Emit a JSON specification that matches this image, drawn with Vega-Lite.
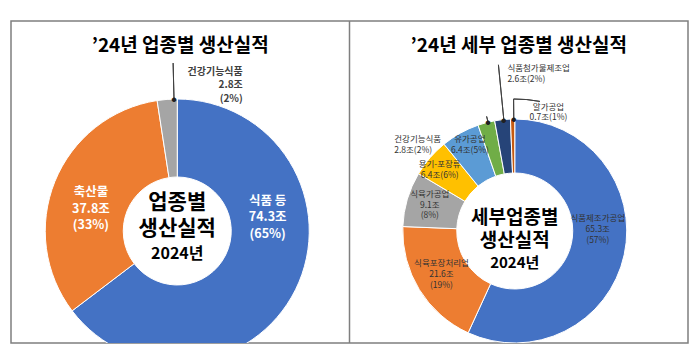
{
  "$schema": "https://vega.github.io/schema/vega-lite/v6.json",
  "width": 700,
  "height": 358,
  "autosize": {"type": "fit", "contains": "padding"},
  "padding": {"left": 11, "top": 20, "right": 12, "bottom": 14},
  "config": {
    "view": {"stroke": "#7f7f7f", "strokeWidth": 1.5},
    "font": "Noto Sans CJK KR",
    "text": {"font": "Noto Sans CJK KR"}
  },
  "datasets": {
    "panels": [
      {"panel": "L", "title": "’24년 업종별 생산실적"},
      {"panel": "R", "title": "’24년 세부 업종별 생산실적"}
    ],
    "left": [
      {"panel": "L", "rank": 1, "category": "식품 등", "value": 74.3, "label": "식품 등\n74.3조\n(65%)"},
      {"panel": "L", "rank": 2, "category": "축산물", "value": 37.8, "label": "축산물\n37.8조\n(33%)"},
      {"panel": "L", "rank": 3, "category": "건강기능식품", "value": 2.8, "label": "건강기능식품\n2.8조\n(2%)"}
    ],
    "right": [
      {"panel": "R", "rank": 1, "category": "식품제조가공업", "value": 65.3, "label": "식품제조가공업\n65.3조\n(57%)"},
      {"panel": "R", "rank": 2, "category": "식육포장처리업", "value": 21.6, "label": "식육포장처리업\n21.6조\n(19%)"},
      {"panel": "R", "rank": 3, "category": "식육가공업", "value": 9.1, "label": "식육가공업\n9.1조\n(8%)"},
      {"panel": "R", "rank": 4, "category": "용기-포장류", "value": 6.4, "label": "용기-포장류\n6.4조(6%)"},
      {"panel": "R", "rank": 5, "category": "유가공업", "value": 6.4, "label": "유가공업\n6.4조(5%)"},
      {"panel": "R", "rank": 6, "category": "건강기능식품", "value": 2.8, "label": "건강기능식품\n2.8조(2%)"},
      {"panel": "R", "rank": 7, "category": "식품첨가물제조업", "value": 2.6, "label": "식품첨가물제조업\n2.6조(2%)"},
      {"panel": "R", "rank": 8, "category": "알가공업", "value": 0.7, "label": "알가공업\n0.7조(1%)"}
    ]
  },
  "encoding": {
    "x": {"field": "panel", "type": "nominal", "axis": null, "scale": {"type": "band", "domain": ["L", "R"], "paddingInner": 0, "paddingOuter": 0}}
  },
  "resolve": {"scale": {"color": "independent"}},
  "layer": [
    {
      "data": {"name": "panels"},
      "transform": [{"filter": "datum.panel === 'R'"}],
      "mark": {"type": "rule", "color": "#7f7f7f", "strokeWidth": 1.5},
      "encoding": {"x": {"field": "panel", "type": "nominal", "bandPosition": 0}}
    },
    {
      "data": {"name": "panels"},
      "mark": {"type": "text", "y": 25, "fontSize": 19, "fontWeight": "bold", "color": "#000000", "align": "center", "baseline": "middle"},
      "encoding": {"text": {"field": "title", "type": "nominal"}}
    },
    {
      "data": {"name": "left"},
      "layer": [
        {
          "mark": {"type": "arc", "outerRadius": 132, "innerRadius": 54, "stroke": "white", "strokeWidth": 1, "xOffset": -3, "y": 210, "clip": true},
          "encoding": {
            "theta": {"field": "value", "type": "quantitative", "stack": true, "scale": {"domain": [0, 114.9], "nice": false}},
            "order": {"field": "rank", "type": "quantitative"},
            "color": {"field": "category", "type": "nominal", "scale": {"domain": ["식품 등", "축산물", "건강기능식품"], "range": ["#4472C4", "#ED7D31", "#A5A5A5"]}, "legend": null}
          }
        },
        {
          "mark": {"type": "text", "radius": 92, "dx": 8, "dy": -70.8, "xOffset": -3, "y": 210, "lineBreak": "\n", "fontSize": 12.5, "lineHeight": 16.3, "fontWeight": "bold", "color": "white", "align": "center", "baseline": "middle"},
          "encoding": {
            "theta": {"field": "value", "type": "quantitative", "stack": true, "scale": {"domain": [0, 114.9], "nice": false}},
            "order": {"field": "rank", "type": "quantitative"},
            "detail": {"field": "category", "type": "nominal"},
            "text": {"condition": {"test": "datum.rank === 1", "field": "label", "type": "nominal"}, "value": ""}
          }
        },
        {
          "mark": {"type": "text", "radius": 92, "dx": -1, "dy": -4.3, "xOffset": -3, "y": 210, "lineBreak": "\n", "fontSize": 12.5, "lineHeight": 16.3, "fontWeight": "bold", "color": "white", "align": "center", "baseline": "middle"},
          "encoding": {
            "theta": {"field": "value", "type": "quantitative", "stack": true, "scale": {"domain": [0, 114.9], "nice": false}},
            "order": {"field": "rank", "type": "quantitative"},
            "detail": {"field": "category", "type": "nominal"},
            "text": {"condition": {"test": "datum.rank === 2", "field": "label", "type": "nominal"}, "value": ""}
          }
        },
        {
          "mark": {"type": "text", "radius": 150, "dx": 77, "dy": -9.5, "xOffset": -3, "y": 210, "lineBreak": "\n", "fontSize": 10, "lineHeight": 13.5, "fontWeight": "bold", "color": "#404040", "align": "right", "baseline": "middle"},
          "encoding": {
            "theta": {"field": "value", "type": "quantitative", "stack": true, "scale": {"domain": [0, 114.9], "nice": false}},
            "order": {"field": "rank", "type": "quantitative"},
            "detail": {"field": "category", "type": "nominal"},
            "text": {"condition": {"test": "datum.rank === 3", "field": "label", "type": "nominal"}, "value": ""}
          }
        }
      ]
    },
    {
      "data": {"values": [{"panel": "L"}]},
      "mark": {"type": "arc", "innerRadius": 132, "outerRadius": 168, "fillOpacity": 0, "stroke": "#404040", "strokeWidth": 1, "xOffset": -3, "y": 210},
      "encoding": {
        "theta": {"datum": 114.45, "type": "quantitative", "scale": {"domain": [0, 114.9], "nice": false}},
        "theta2": {"datum": 114.45}
      }
    },
    {
      "data": {"values": [{"panel": "L", "dot": "●"}]},
      "mark": {"type": "text", "radius": 132, "xOffset": -3, "y": 210, "fontSize": 5, "color": "#202020", "align": "center", "baseline": "middle"},
      "encoding": {
        "theta": {"datum": 114.45, "type": "quantitative", "scale": {"domain": [0, 114.9], "nice": false}},
        "text": {"field": "dot", "type": "nominal"}
      }
    },
    {
      "data": {"values": [{"panel": "L", "t": "업종별\n생산실적"}]},
      "mark": {"type": "text", "xOffset": -3, "y": 210, "dy": -28, "lineBreak": "\n", "fontSize": 21, "lineHeight": 26, "fontWeight": "bold", "color": "#000000", "align": "center", "baseline": "middle"},
      "encoding": {"text": {"field": "t", "type": "nominal"}}
    },
    {
      "data": {"values": [{"panel": "L", "t": "2024년"}]},
      "mark": {"type": "text", "xOffset": -3, "y": 210, "dy": 23, "fontSize": 16, "fontWeight": "bold", "color": "#000000", "align": "center", "baseline": "middle"},
      "encoding": {"text": {"field": "t", "type": "nominal"}}
    },
    {
      "data": {"name": "right"},
      "layer": [
        {
          "mark": {"type": "arc", "outerRadius": 112, "innerRadius": 58, "stroke": "white", "strokeWidth": 1, "xOffset": -4, "y": 210, "clip": true},
          "encoding": {
            "theta": {"field": "value", "type": "quantitative", "stack": true, "scale": {"domain": [0, 114.9], "nice": false}},
            "order": {"field": "rank", "type": "quantitative"},
            "color": {"field": "category", "type": "nominal", "scale": {"domain": ["식품제조가공업", "식육포장처리업", "식육가공업", "용기-포장류", "유가공업", "건강기능식품", "식품첨가물제조업", "알가공업"], "range": ["#4472C4", "#ED7D31", "#A5A5A5", "#FFC000", "#5B9BD5", "#70AD47", "#264478", "#C55A11"]}, "legend": null}
          }
        },
        {
          "mark": {"type": "text", "radius": 86, "dx": -1, "dy": -31, "xOffset": -4, "y": 210, "lineBreak": "\n", "fontSize": 8.5, "lineHeight": 11, "color": "#333333", "align": "center", "baseline": "middle"},
          "encoding": {
            "theta": {"field": "value", "type": "quantitative", "stack": true, "scale": {"domain": [0, 114.9], "nice": false}},
            "order": {"field": "rank", "type": "quantitative"},
            "detail": {"field": "category", "type": "nominal"},
            "text": {"condition": {"test": "datum.rank === 1", "field": "label", "type": "nominal"}, "value": ""}
          }
        },
        {
          "mark": {"type": "text", "radius": 86, "dx": 0, "dy": -13, "xOffset": -4, "y": 210, "lineBreak": "\n", "fontSize": 8.5, "lineHeight": 11, "color": "#333333", "align": "center", "baseline": "middle"},
          "encoding": {
            "theta": {"field": "value", "type": "quantitative", "stack": true, "scale": {"domain": [0, 114.9], "nice": false}},
            "order": {"field": "rank", "type": "quantitative"},
            "detail": {"field": "category", "type": "nominal"},
            "text": {"condition": {"test": "datum.rank === 2", "field": "label", "type": "nominal"}, "value": ""}
          }
        },
        {
          "mark": {"type": "text", "radius": 86, "dx": -2.5, "dy": -12.5, "xOffset": -4, "y": 210, "lineBreak": "\n", "fontSize": 8.5, "lineHeight": 10.5, "color": "#333333", "align": "center", "baseline": "middle"},
          "encoding": {
            "theta": {"field": "value", "type": "quantitative", "stack": true, "scale": {"domain": [0, 114.9], "nice": false}},
            "order": {"field": "rank", "type": "quantitative"},
            "detail": {"field": "category", "type": "nominal"},
            "text": {"condition": {"test": "datum.rank === 3", "field": "label", "type": "nominal"}, "value": ""}
          }
        },
        {
          "mark": {"type": "text", "radius": 86, "dx": -10, "dy": -11, "xOffset": -4, "y": 210, "lineBreak": "\n", "fontSize": 8.5, "lineHeight": 11, "color": "#333333", "align": "center", "baseline": "middle"},
          "encoding": {
            "theta": {"field": "value", "type": "quantitative", "stack": true, "scale": {"domain": [0, 114.9], "nice": false}},
            "order": {"field": "rank", "type": "quantitative"},
            "detail": {"field": "category", "type": "nominal"},
            "text": {"condition": {"test": "datum.rank === 4", "field": "label", "type": "nominal"}, "value": ""}
          }
        },
        {
          "mark": {"type": "text", "radius": 86, "dx": -3, "dy": -17, "xOffset": -4, "y": 210, "lineBreak": "\n", "fontSize": 8.5, "lineHeight": 11, "color": "#333333", "align": "center", "baseline": "middle"},
          "encoding": {
            "theta": {"field": "value", "type": "quantitative", "stack": true, "scale": {"domain": [0, 114.9], "nice": false}},
            "order": {"field": "rank", "type": "quantitative"},
            "detail": {"field": "category", "type": "nominal"},
            "text": {"condition": {"test": "datum.rank === 5", "field": "label", "type": "nominal"}, "value": ""}
          }
        },
        {
          "mark": {"type": "text", "radius": 120, "dx": -90, "dy": 24, "xOffset": -4, "y": 210, "lineBreak": "\n", "fontSize": 8.5, "lineHeight": 11, "color": "#333333", "align": "left", "baseline": "middle"},
          "encoding": {
            "theta": {"field": "value", "type": "quantitative", "stack": true, "scale": {"domain": [0, 114.9], "nice": false}},
            "order": {"field": "rank", "type": "quantitative"},
            "detail": {"field": "category", "type": "nominal"},
            "text": {"condition": {"test": "datum.rank === 6", "field": "label", "type": "nominal"}, "value": ""}
          }
        },
        {
          "mark": {"type": "text", "radius": 150, "dx": 9, "dy": -13.5, "xOffset": -4, "y": 210, "lineBreak": "\n", "fontSize": 8.5, "lineHeight": 11, "color": "#333333", "align": "left", "baseline": "middle"},
          "encoding": {
            "theta": {"field": "value", "type": "quantitative", "stack": true, "scale": {"domain": [0, 114.9], "nice": false}},
            "order": {"field": "rank", "type": "quantitative"},
            "detail": {"field": "category", "type": "nominal"},
            "text": {"condition": {"test": "datum.rank === 7", "field": "label", "type": "nominal"}, "value": ""}
          }
        },
        {
          "mark": {"type": "text", "radius": 120, "dx": 36, "dy": -4.5, "xOffset": -4, "y": 210, "lineBreak": "\n", "fontSize": 8.5, "lineHeight": 10.5, "color": "#333333", "align": "center", "baseline": "middle"},
          "encoding": {
            "theta": {"field": "value", "type": "quantitative", "stack": true, "scale": {"domain": [0, 114.9], "nice": false}},
            "order": {"field": "rank", "type": "quantitative"},
            "detail": {"field": "category", "type": "nominal"},
            "text": {"condition": {"test": "datum.rank === 8", "field": "label", "type": "nominal"}, "value": ""}
          }
        }
      ]
    },
    {
      "data": {"values": [{"panel": "R"}]},
      "mark": {"type": "arc", "innerRadius": 112, "outerRadius": 167, "fillOpacity": 0, "stroke": "#404040", "strokeWidth": 1, "xOffset": -4, "y": 210},
      "encoding": {
        "theta": {"datum": 113.11, "type": "quantitative", "scale": {"domain": [0, 114.9], "nice": false}},
        "theta2": {"datum": 113.11}
      }
    },
    {
      "data": {"values": [{"panel": "R"}]},
      "mark": {"type": "arc", "innerRadius": 112, "outerRadius": 132, "fillOpacity": 0, "stroke": "#404040", "strokeWidth": 1, "xOffset": -4, "y": 210},
      "encoding": {
        "theta": {"datum": 114.74, "type": "quantitative", "scale": {"domain": [0, 114.9], "nice": false}},
        "theta2": {"datum": 114.74}
      }
    },
    {
      "data": {"values": [{"panel": "R"}]},
      "mark": {"type": "arc", "innerRadius": 132, "outerRadius": 132, "fillOpacity": 0, "stroke": "#404040", "strokeWidth": 1, "xOffset": -4, "y": 210},
      "encoding": {
        "theta": {"datum": 114.74, "type": "quantitative", "scale": {"domain": [0, 114.9], "nice": false}},
        "theta2": {"datum": 118.4}
      }
    },
    {
      "data": {"values": [{"panel": "R"}]},
      "mark": {"type": "arc", "innerRadius": 112, "outerRadius": 118, "fillOpacity": 0, "stroke": "#404040", "strokeWidth": 1, "xOffset": -4, "y": 210},
      "encoding": {
        "theta": {"datum": 110.5, "type": "quantitative", "scale": {"domain": [0, 114.9], "nice": false}},
        "theta2": {"datum": 110.5}
      }
    },
    {
      "data": {"values": [
        {"panel": "R", "pos": 113.11, "dot": "●"},
        {"panel": "R", "pos": 114.74, "dot": "●"},
        {"panel": "R", "pos": 110.5, "dot": "●"}
      ]},
      "mark": {"type": "text", "radius": 112, "xOffset": -4, "y": 210, "fontSize": 5, "color": "#202020", "align": "center", "baseline": "middle"},
      "encoding": {
        "theta": {"field": "pos", "type": "quantitative", "scale": {"domain": [0, 114.9], "nice": false}},
        "text": {"field": "dot", "type": "nominal"}
      }
    },
    {
      "data": {"values": [{"panel": "R", "t": "세부업종별\n생산실적"}]},
      "mark": {"type": "text", "xOffset": -4, "y": 210, "dy": -13, "lineBreak": "\n", "fontSize": 19, "lineHeight": 23, "fontWeight": "bold", "color": "#000000", "align": "center", "baseline": "middle"},
      "encoding": {"text": {"field": "t", "type": "nominal"}}
    },
    {
      "data": {"values": [{"panel": "R", "t": "2024년"}]},
      "mark": {"type": "text", "xOffset": -4, "y": 210, "dy": 32, "fontSize": 15, "fontWeight": "bold", "color": "#000000", "align": "center", "baseline": "middle"},
      "encoding": {"text": {"field": "t", "type": "nominal"}}
    }
  ]
}
